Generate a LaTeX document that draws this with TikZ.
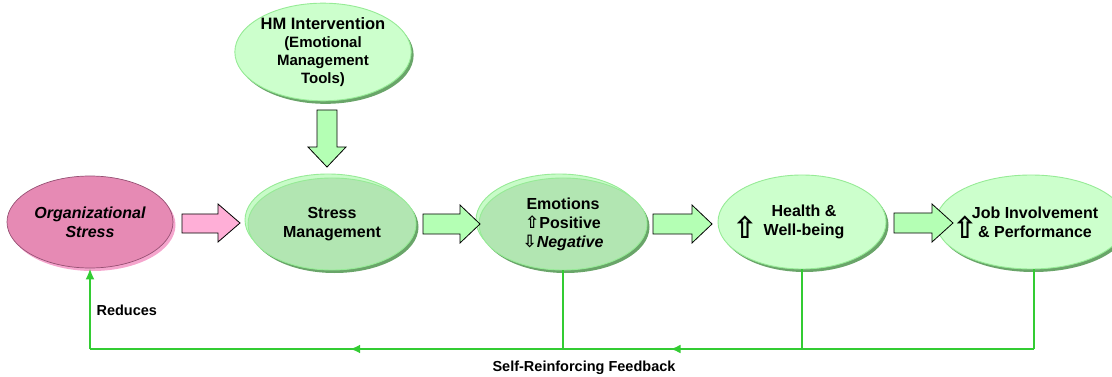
\documentclass[tikz,border=0pt]{standalone}
\usepackage{fontspec}
\setmainfont{Liberation Sans}
\newfontfamily\dvsans{DejaVu Sans}
\usetikzlibrary{shapes.geometric,shadows,arrows.meta,decorations.markings}
\definecolor{pinkfill}{RGB}{230,138,180}
\definecolor{pinkborder}{RGB}{150,80,115}
\definecolor{pinkshadow}{RGB}{245,165,205}
\definecolor{pinkarrow}{RGB}{255,175,215}
\definecolor{lgfill}{RGB}{204,255,204}
\definecolor{lgborder}{RGB}{150,235,150}
\definecolor{mgfill}{RGB}{178,230,178}
\definecolor{gshadow}{RGB}{105,165,105}
\definecolor{garrow}{RGB}{180,255,180}
\definecolor{fbgreen}{RGB}{51,204,51}
\begin{document}
\begin{tikzpicture}[x=1pt,y=-1pt,
  lbl/.style={font=\bfseries\fontsize{16}{19}\selectfont, align=center, text=black},
  bubble/.style={ellipse, inner sep=0pt, line width=0.9pt, draw=lgborder, fill=lgfill,
     lbl, drop shadow={shadow xshift=2.5pt, shadow yshift=-3pt, fill=gshadow, opacity=1}},
  midbubble/.style={bubble, fill=mgfill},
  backbubble/.style={ellipse, inner sep=0pt, line width=0.9pt, draw=lgborder, fill=lgfill!85!mgfill},
  pinkbubble/.style={ellipse, inner sep=0pt, line width=0.7pt, draw=pinkborder, fill=pinkfill,
     lbl, drop shadow={shadow xshift=2.5pt, shadow yshift=-3pt, fill=pinkshadow, opacity=1}},
  blockarrow/.style={draw=black, line width=0.8pt, fill=garrow, line join=miter},
  fb/.style={draw=fbgreen, line width=2.2pt},
  fbmark/.style={fb, postaction={decorate}, decoration={markings,
     mark=at position #1 with {\arrow{Latex[length=10pt,width=9pt]}}}},
  fbtext/.style={font=\bfseries\fontsize{14.5}{17}\selectfont, text=black},
  bigup/.style={font=\dvsans\bfseries\fontsize{30}{30}\selectfont, inner sep=0pt}
]
\useasboundingbox (0,0) rectangle (1112,377);

% ellipses
\node[pinkbubble, minimum width=166pt, minimum height=92pt] (org) at (90,222)
  {\itshape Organizational\\\itshape Stress};
\node[bubble, minimum width=162pt, minimum height=94pt] (hm) at (323,52)
  {{\fontsize{16.5}{19}\selectfont HM Intervention}\\[-1pt]
   {\fontsize{15}{19}\selectfont (Emotional}\\[-1pt]
   {\fontsize{15}{19}\selectfont Management}\\[-1pt]
   {\fontsize{15}{19}\selectfont Tools)}};
\node[backbubble, minimum width=166pt, minimum height=92pt] (smback) at (328,220) {};
\node[midbubble, minimum width=168pt, minimum height=92pt] (sm) at (332,224)
  {Stress\\Management};
\node[backbubble, minimum width=166pt, minimum height=92pt] (emoback) at (559,220) {};
\node[midbubble, minimum width=168pt, minimum height=92pt] (emo) at (563,224)
  {\fontsize{16}{22}\selectfont Emotions\\
   {\dvsans\fontsize{17}{22}\selectfont ⇧}Positive\\
   {\dvsans\fontsize{17}{22}\selectfont ⇩}\textit{Negative}};
\node[bubble, minimum width=168pt, minimum height=94pt] (health) at (802,222)
  {\hspace*{4pt}Health \&\\\hspace*{4pt}Well-being};
\node[bubble, minimum width=162pt, minimum height=94pt] (job) at (1031,222)
  {\hspace*{8pt}Job Involvement\\\hspace*{8pt}\& Performance};

% big up symbols
\node[bigup] (hup) at (745,227) {⇧};
\node[bigup] (jup) at (965,227) {⇧};

% block arrows
\fill[pinkarrow, draw=black, line width=0.8pt, line join=miter]
  (182,214) -- (218,214) -- (218,204) -- (240,223) -- (218,242) -- (218,233) -- (182,233) -- cycle;
\draw[blockarrow] (423,214) -- (460,214) -- (460,205) -- (480,224) -- (460,243) -- (460,234) -- (423,234) -- cycle;
\draw[blockarrow] (653,214) -- (692,214) -- (692,205) -- (712,224) -- (692,243) -- (692,234) -- (653,234) -- cycle;
\draw[blockarrow] (894,213) -- (932,213) -- (932,204) -- (953,223) -- (932,242) -- (932,233) -- (894,233) -- cycle;
\draw[blockarrow] (317,110) -- (337,110) -- (337,147) -- (346,147) -- (327,167) -- (308,147) -- (317,147) -- cycle;

% feedback
\coordinate (fbL) at (90,349);
\coordinate (emoB) at (563,349);
\coordinate (healthB) at (802,349);
\coordinate (jobB) at (1034,349);
\draw[fb] (emo.south) -- (emoB);
\draw[fb] (health.south) -- (healthB);
\draw[fb] ([xshift=3pt]job.south) -- (jobB);
\draw[fb] (jobB) -- (healthB);
\draw[fbmark=0.55] (healthB) -- (emoB);
\draw[fbmark=0.45] (emoB) -- (fbL);
\draw[fb, -{Latex[length=11pt,width=9pt]}] (fbL) -- (org.south);

\node[fbtext, anchor=west] (reduces) at (93,310) {Reduces};
\node[fbtext] (srf) at (584,368) {Self-Reinforcing Feedback};
\end{tikzpicture}
\end{document}
